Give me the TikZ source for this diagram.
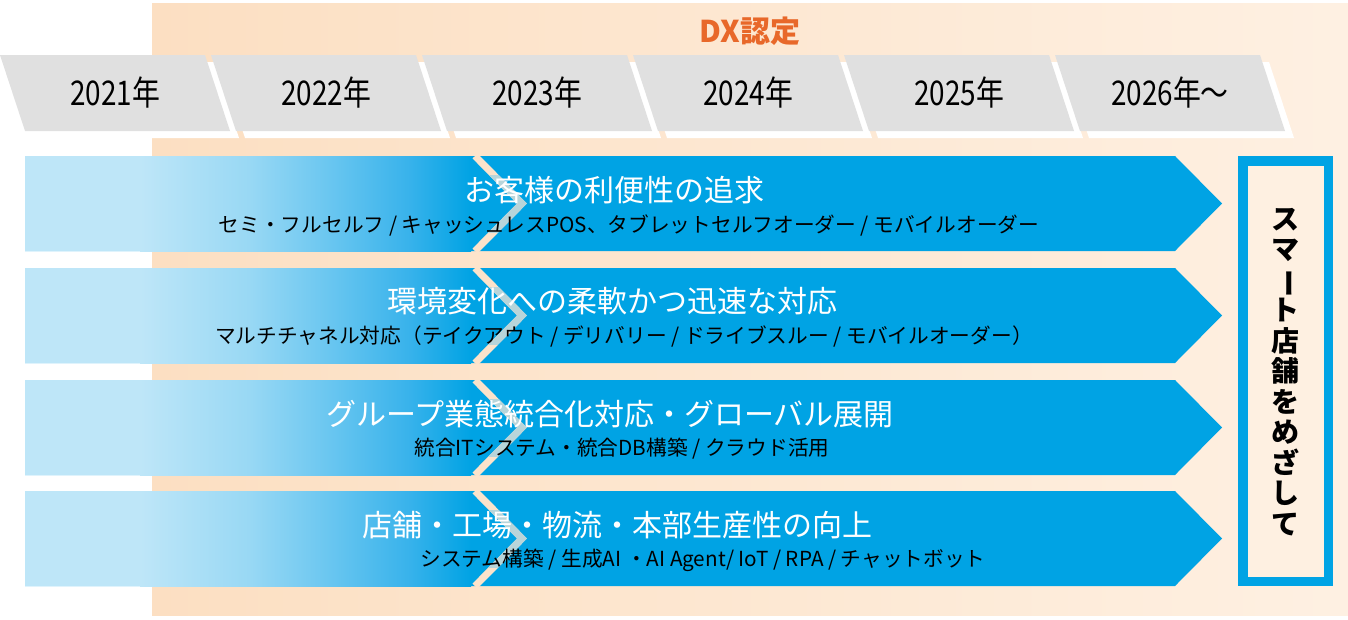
\documentclass[tikz,border=0pt]{standalone}
\usepackage{fontspec}
\usepackage{graphicx}
\setmainfont{Noto Sans CJK JP}
\newfontfamily\yearfont{Noto Sans CJK JP}[FakeStretch=0.82]
\usetikzlibrary{positioning}

\definecolor{peachL}{RGB}{252,223,194}
\definecolor{peachR}{RGB}{254,240,226}
\definecolor{yeargray}{RGB}{224,224,224}
\definecolor{dxblue}{RGB}{0,163,228}
\definecolor{dxorange}{RGB}{232,104,42}
\definecolor{gappeach}{RGB}{251,227,203}
\definecolor{gapblue}{RGB}{184,213,218}
\definecolor{boxcream}{RGB}{254,240,225}
\definecolor{fadeA}{RGB}{190,230,248}
\definecolor{fadeB}{RGB}{152,216,244}
\definecolor{fadeC}{RGB}{105,198,240}
\definecolor{fadeD}{RGB}{55,178,235}

\newcommand{\tatebar}{\rotatebox[origin=c]{-90}{ー}}

\begin{document}
\begin{tikzpicture}[x=1pt, y=-1pt,
    yearlbl/.style={font=\yearfont\fontsize{34}{36}\selectfont, text=black, inner sep=0pt},
    goal/.style={font=\fontsize{30}{32}\selectfont, text=white, inner sep=0pt},
    detail/.style={font=\fontsize{20.7}{22}\selectfont, text=black, inner sep=0pt},
    tatelbl/.style={font=\fontsize{28}{30.5}\selectfont\bfseries, align=center, inner sep=0pt}]
  \useasboundingbox (0,0) rectangle (1348,619);
  % DX band
  \shade[left color=peachL, right color=peachR] (152,3) rectangle (1348,615);
  \node[font=\fontsize{30}{32}\selectfont\bfseries, text=dxorange] (dx) at (750,31) {DX認定};
  % years
  \foreach \i in {0,...,5}
    \fill[white] (211*\i+9,62) -- (211*\i+214,62) -- (211*\i+239,138) -- (211*\i+34,138) -- cycle;
  \foreach \lbl [count=\i from 0] in {2021年,2022年,2023年,2024年,2025年,2026年～} {
    \fill[yeargray] (211*\i,55) -- (211*\i+205,55) -- (211*\i+230,131) -- (211*\i+25,131) -- cycle;
    \node[yearlbl] (yr\i) at (211*\i+115,93) {\lbl};
  }
  % arrows
  \foreach \t in {156,268,380,491} {
    \fill[dxblue] (25,\t) -- (1175,\t) -- (1222,\t+47.5) -- (1175,\t+95) -- (25,\t+95) -- cycle;
    \fill[fadeA] (25,\t) rectangle (140.5,\t+95);
    \shade[left color=fadeA, right color=fadeB] (140,\t) rectangle (250.5,\t+95);
    \shade[left color=fadeB, right color=fadeC] (250,\t) rectangle (330.5,\t+95);
    \shade[left color=fadeC, right color=fadeD] (330,\t) rectangle (410.5,\t+95);
    \shade[left color=fadeD, right color=dxblue] (410,\t) rectangle (471,\t+95);
    \begin{scope}
      \clip (0,\t) rectangle (1348,\t+95);
      \draw[gappeach, line width=7] (475,\t) -- (522,\t+47.5) -- (475,\t+95);
      \clip (0,\t+19) rectangle (1348,\t+76);
      \draw[gapblue, line width=7] (475,\t) -- (522,\t+47.5) -- (475,\t+95);
    \end{scope}
  }
  \node[goal] (goal1) at (614,190) {お客様の利便性の追求};
  \node[detail, below=10pt of goal1, xshift=15pt] (detail1) {セミ・フルセルフ / キャッシュレスPOS、タブレットセルフオーダー / モバイルオーダー};
  \node[goal] (goal2) at (612,301) {環境変化への柔軟かつ迅速な対応};
  \node[detail, below=10pt of goal2, xshift=12pt] (detail2) {マルチチャネル対応（テイクアウト / デリバリー / ドライブスルー / モバイルオーダー）};
  \node[goal] (goal3) at (610,414) {グループ業態統合化対応・グローバル展開};
  \node[detail, below=10pt of goal3, xshift=12pt] (detail3) {統合ITシステム・統合DB構築 / クラウド活用};
  \node[goal] (goal4) at (617,525) {店舗・工場・物流・本部生産性の向上};
  \node[detail, below=10pt of goal4, xshift=86pt] (detail4) {システム構築 / 生成AI ・AI Agent/ IoT / RPA / チャットボット};
  % goal box
  \draw[dxblue, line width=9.5, fill=boxcream] (1242.75,160.75) rectangle (1328.25,581.25);
  \node[tatelbl] (smart) at (1285.5,372) {ス\\マ\\\tatebar\\ト\\店\\舗\\を\\め\\ざ\\し\\て};
\end{tikzpicture}
\end{document}
